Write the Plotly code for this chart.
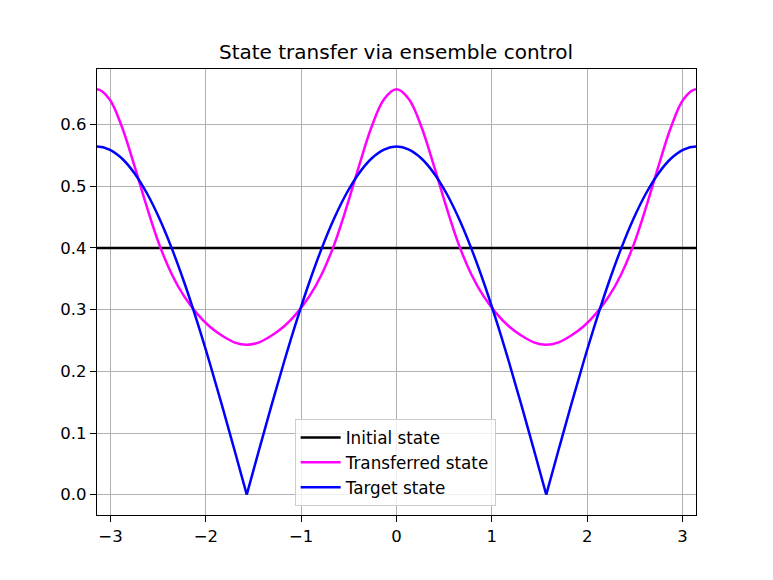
import plotly.graph_objects as go

# sampled every pi/24; one extra (clipped) sample on each side keeps the curve ends smooth
x_vals = [-3.2725,
          -3.1416, -3.0107, -2.8798, -2.7489, -2.6180, -2.4871, -2.3562, -2.2253,
          -2.0944, -1.9635, -1.8326, -1.7017, -1.5708, -1.4399, -1.3090, -1.1781,
          -1.0472, -0.9163, -0.7854, -0.6545, -0.5236, -0.3927, -0.2618, -0.1309,
          0.0,
          0.1309, 0.2618, 0.3927, 0.5236, 0.6545, 0.7854, 0.9163, 1.0472,
          1.1781, 1.3090, 1.4399, 1.5708, 1.7017, 1.8326, 1.9635, 2.0944,
          2.2253, 2.3562, 2.4871, 2.6180, 2.7489, 2.8798, 3.0107, 3.1416,
          3.2725]

initial_state = [0.4] * 51

transferred_state = [0.641,
                     0.657, 0.641, 0.596, 0.533, 0.466, 0.405, 0.357, 0.321, 0.294, 0.273,
                     0.258, 0.247, 0.243, 0.247, 0.258, 0.273, 0.294, 0.321, 0.357, 0.405,
                     0.466, 0.533, 0.596, 0.641, 0.657,
                     0.641, 0.596, 0.533, 0.466, 0.405, 0.357, 0.321, 0.294, 0.273,
                     0.258, 0.247, 0.243, 0.247, 0.258, 0.273, 0.294, 0.321, 0.357, 0.405,
                     0.466, 0.533, 0.596, 0.641, 0.657,
                     0.641]

target_state = [0.5594,
                0.5642, 0.5594, 0.5450, 0.5212, 0.4886, 0.4476, 0.3989, 0.3435, 0.2821, 0.2159,
                0.1460, 0.0736, 0.0, 0.0736, 0.1460, 0.2159, 0.2821, 0.3435, 0.3989, 0.4476,
                0.4886, 0.5212, 0.5450, 0.5594, 0.5642,
                0.5594, 0.5450, 0.5212, 0.4886, 0.4476, 0.3989, 0.3435, 0.2821, 0.2159,
                0.1460, 0.0736, 0.0, 0.0736, 0.1460, 0.2159, 0.2821, 0.3435, 0.3989, 0.4476,
                0.4886, 0.5212, 0.5450, 0.5594, 0.5642,
                0.5594]

x_ticks = [-3, -2, -1, 0, 1, 2, 3]
x_tick_text = ["\u22123", "\u22122", "\u22121", "0", "1", "2", "3"]
y_ticks = [0.0, 0.1, 0.2, 0.3, 0.4, 0.5, 0.6]
y_tick_text = ["0.0", "0.1", "0.2", "0.3", "0.4", "0.5", "0.6"]

title_text = "State transfer via ensemble control"

FONT = "DejaVu Sans"

# split the target curve at its zeros (kinks) so each smooth arc can be splined
tx, ty = [], []
for i, (xv, yv) in enumerate(zip(x_vals, target_state)):
    tx.append(xv)
    ty.append(yv)
    if yv == 0.0 and 0 < i < len(x_vals) - 1:
        tx.extend([None, xv])
        ty.extend([None, yv])

fig = go.Figure()
fig.add_trace(go.Scatter(x=x_vals, y=initial_state, mode="lines", name="Initial state",
                         line=dict(color="black", width=2.5)))
fig.add_trace(go.Scatter(x=x_vals, y=transferred_state, mode="lines", name="Transferred state",
                         line=dict(color="#ff00ff", width=2.5, shape="spline", smoothing=1.0)))
fig.add_trace(go.Scatter(x=tx, y=ty, mode="lines", name="Target state", connectgaps=False,
                         line=dict(color="#0000ff", width=2.5, shape="spline", smoothing=1.0)))

axis_common = dict(
    showline=True, linecolor="black", linewidth=1.3, mirror=True,
    ticks="outside", ticklen=6, tickwidth=1.3, tickcolor="black",
    showgrid=True, gridcolor="#b0b0b0", gridwidth=1.3,
    zeroline=False, tickfont=dict(family=FONT, size=16.5, color="black"),
)

W, H = 765, 572
fig.update_layout(
    width=W, height=H,
    margin=dict(l=89, r=77, t=61, b=65),
    paper_bgcolor="white", plot_bgcolor="white",
    font=dict(family=FONT, color="black"),
    title=dict(text=title_text, x=(396 - 8) / W, xanchor="center",
               y=1 - 44 / H, yanchor="middle",
               font=dict(family=FONT, size=20, color="black")),
    xaxis=dict(range=[-3.14159, 3.14159], tickvals=x_ticks, ticktext=x_tick_text, **axis_common),
    yaxis=dict(range=[-0.0329, 0.690], tickvals=y_ticks, ticktext=y_tick_text, **axis_common),
    legend=dict(x=0.330, y=0.02, xanchor="left", yanchor="bottom",
                bgcolor="rgba(255,255,255,0.8)", bordercolor="#cccccc", borderwidth=1,
                font=dict(family=FONT, size=16.8, color="black"),
                tracegroupgap=0, itemwidth=40),
    showlegend=True,
)

fig.write_html("out.html")
